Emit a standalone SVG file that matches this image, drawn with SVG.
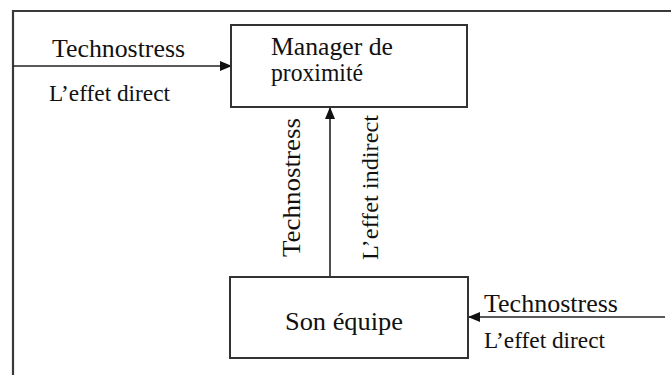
<svg xmlns="http://www.w3.org/2000/svg" width="671" height="375" viewBox="0 0 671 375">
<style>
.frame{fill:none;stroke:#3a3a3a;stroke-width:2.2}
.box{fill:#fff;stroke:#333;stroke-width:2}
.conn{stroke:#222;stroke-width:1.6;fill:none}
.t{font-family:"Liberation Serif","Times New Roman",serif;fill:#111}
</style>
<defs>
<marker id="ah" markerWidth="12" markerHeight="10" refX="11" refY="5" orient="auto" markerUnits="userSpaceOnUse">
<path d="M0,0 L12,5 L0,10 Z" fill="#111"/>
</marker>
</defs>
<rect width="671" height="375" fill="#fff"/>
<g id="frame">
<path class="frame" d="M671,11 H13 V375"/>
</g>
<g id="connectors">
<line class="conn" x1="13" y1="66" x2="231" y2="66" marker-end="url(#ah)"/>
<line class="conn" x1="330" y1="277" x2="330" y2="108" marker-end="url(#ah)"/>
<line class="conn" x1="665" y1="317" x2="469" y2="317" marker-end="url(#ah)"/>
</g>
<g id="labels">
<text class="t" x="52" y="57" font-size="25" textLength="133" lengthAdjust="spacingAndGlyphs">Technostress</text>
<text class="t" x="49" y="101" font-size="23" textLength="121" lengthAdjust="spacingAndGlyphs">L’effet direct</text>
<text class="t" transform="translate(300,187.5) rotate(-90)" text-anchor="middle" font-size="25" textLength="139" lengthAdjust="spacingAndGlyphs">Technostress</text>
<text class="t" transform="translate(378,187.5) rotate(-90)" text-anchor="middle" font-size="24" textLength="145" lengthAdjust="spacingAndGlyphs">L’effet indirect</text>
<text class="t" x="484" y="312" font-size="25" textLength="134" lengthAdjust="spacingAndGlyphs">Technostress</text>
<text class="t" x="484" y="348" font-size="23" textLength="121" lengthAdjust="spacingAndGlyphs">L’effet direct</text>
</g>
<g id="manager">
<rect class="box" x="231" y="25" width="236" height="82"/>
<text class="t" x="271" y="55" font-size="25" textLength="122" lengthAdjust="spacingAndGlyphs">Manager de</text>
<text class="t" x="271" y="81" font-size="25" textLength="92" lengthAdjust="spacingAndGlyphs">proximité</text>
</g>
<g id="equipe">
<rect class="box" x="230" y="277" width="238" height="81"/>
<text class="t" x="285" y="330" font-size="25" textLength="118" lengthAdjust="spacingAndGlyphs">Son équipe</text>
</g>
</svg>
